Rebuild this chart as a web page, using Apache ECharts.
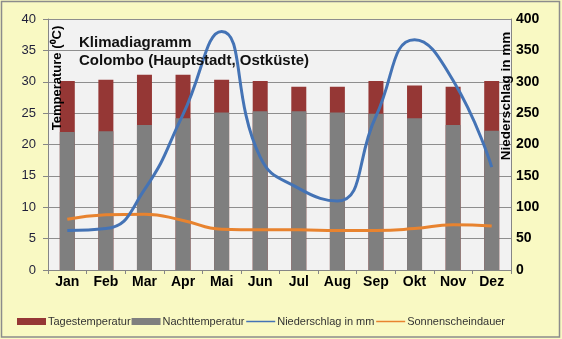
<!DOCTYPE html>
<html>
<head>
<meta charset="utf-8">
<script src="https://cdn.jsdelivr.net/npm/echarts@6/dist/echarts.min.js"></script>
<style>
  html, body { margin: 0; padding: 0; background: #F9F9C3; }
  #chart { width: 562px; height: 339px; }
</style>
</head>
<body>
<div id="chart"></div>
<script>
// Monthly climate values for Colombo
const months = ['Jan', 'Feb', 'Mar', 'Apr', 'Mai', 'Jun', 'Jul', 'Aug', 'Sep', 'Okt', 'Nov', 'Dez'];
const dayTemp = [30.1, 30.3, 31.1, 31.1, 30.3, 30.1, 29.2, 29.2, 30.1, 29.4, 29.2, 30.1];
const nightTemp = [22.0, 22.1, 23.1, 24.2, 25.1, 25.3, 25.3, 25.1, 24.9, 24.2, 23.1, 22.2];
const rainfall = [63, 66, 128, 248, 380, 180, 130, 110, 245, 367, 302, 164];
const sunshine = [8.1, 8.8, 8.9, 7.9, 6.5, 6.4, 6.4, 6.3, 6.3, 6.6, 7.2, 7.0];

// Axis tick values
const tempTicks = [0, 5, 10, 15, 20, 25, 30, 35, 40];
const rainTicks = [0, 50, 100, 150, 200, 250, 300, 350, 400];

const FONT = '"Liberation Sans", Arial, sans-serif';

const chart = echarts.init(document.getElementById('chart'), null, { renderer: 'canvas' });

chart.setOption({
  animation: false,
  backgroundColor: '#F9F9C3',
  textStyle: { fontFamily: FONT },
  title: {
    text: 'Klimadiagramm\nColombo (Hauptstadt, Ostküste)',
    left: 74,
    top: 29,
    textStyle: {
      fontFamily: FONT,
      fontSize: 15,
      fontWeight: 'bold',
      color: '#111',
      lineHeight: 18
    }
  },
  grid: {
    left: 48,
    right: 51,
    top: 19,
    bottom: 69,
    show: true,
    backgroundColor: '#F2F2F2',
    borderWidth: 0
  },
  legend: {
    left: 12,
    top: 311,
    itemWidth: 29,
    itemHeight: 7,
    itemGap: 1,
    textStyle: { fontFamily: FONT, fontSize: 11, color: '#333', padding: [0, 0, 0, -3] },
    data: [
      { name: 'Tagestemperatur', icon: 'rect' },
      { name: 'Nachttemperatur', icon: 'rect' },
      { name: 'Niederschlag in mm', itemStyle: { opacity: 0 }, lineStyle: { width: 1.5 } },
      { name: 'Sonnenscheindauer', itemStyle: { opacity: 0 }, lineStyle: { width: 1.5 } }
    ]
  },
  xAxis: {
    type: 'category',
    data: months,
    axisLine: { lineStyle: { color: '#868686', width: 1 } },
    axisTick: { show: true, length: 4, lineStyle: { color: '#868686' } },
    splitLine: { show: true, lineStyle: { color: 'rgba(0,0,0,0)', width: 0 } },
    splitArea: { show: false },
    axisLabel: {
      fontFamily: FONT,
      fontSize: 14,
      fontWeight: 'bold',
      color: '#000',
      margin: 5
    }
  },
  yAxis: [
    {
      type: 'value',
      min: tempTicks[0],
      max: tempTicks[tempTicks.length - 1],
      interval: tempTicks[1] - tempTicks[0],
      axisLine: { show: true, lineStyle: { color: '#868686' } },
      axisTick: { show: true, length: 5, lineStyle: { color: '#868686' } },
      axisLabel: { fontFamily: FONT, fontSize: 13, color: '#1f1f3a', margin: 12 },
      splitLine: { show: true, lineStyle: { color: '#8E8E8E', width: 1 } }
    },
    {
      type: 'value',
      min: rainTicks[0],
      max: rainTicks[rainTicks.length - 1],
      interval: rainTicks[1] - rainTicks[0],
      axisLine: { show: true, lineStyle: { color: '#868686' } },
      axisTick: { show: false },
      axisLabel: { fontFamily: FONT, fontSize: 14, fontWeight: 'bold', color: '#000', margin: 5 },
      splitLine: { show: false }
    }
  ],
  series: [
    {
      name: 'Tagestemperatur',
      type: 'bar',
      data: dayTemp,
      barWidth: 15,
      itemStyle: { color: '#953735' },
      z: 2
    },
    {
      name: 'Nachttemperatur',
      type: 'bar',
      data: nightTemp,
      barWidth: 15,
      barGap: '-100%',
      itemStyle: { color: '#7F7F7F' },
      z: 3
    },
    {
      name: 'Niederschlag in mm',
      type: 'line',
      yAxisIndex: 1,
      data: rainfall,
      smooth: 0.5,
      symbol: 'none',
      lineStyle: { color: '#4473B5', width: 3 },
      itemStyle: { color: '#4473B5' },
      z: 5
    },
    {
      name: 'Sonnenscheindauer',
      type: 'line',
      yAxisIndex: 0,
      data: sunshine,
      smooth: 0.5,
      symbol: 'none',
      lineStyle: { color: '#E8832F', width: 3 },
      itemStyle: { color: '#E8832F' },
      z: 4
    }
  ],
  graphic: [
    {
      type: 'rect',
      shape: { x: 1.5, y: 1.5, width: 558, height: 335.5 },
      style: { fill: 'none', stroke: '#8C8C8C', lineWidth: 1.5 },
      silent: true,
      z: 100
    },
    {
      type: 'text',
      x: 57,
      y: 78,
      rotation: Math.PI / 2,
      style: {
        text: 'Temperature (⁰C)',
        font: 'bold 13px ' + FONT,
        fill: '#000',
        align: 'center',
        verticalAlign: 'middle'
      },
      z: 50
    },
    {
      type: 'text',
      x: 506,
      y: 96,
      rotation: Math.PI / 2,
      style: {
        text: 'Niederschlag in mm',
        font: 'bold 13.5px ' + FONT,
        fill: '#000',
        align: 'center',
        verticalAlign: 'middle'
      },
      z: 50
    }
  ]
});
</script>
</body>
</html>
